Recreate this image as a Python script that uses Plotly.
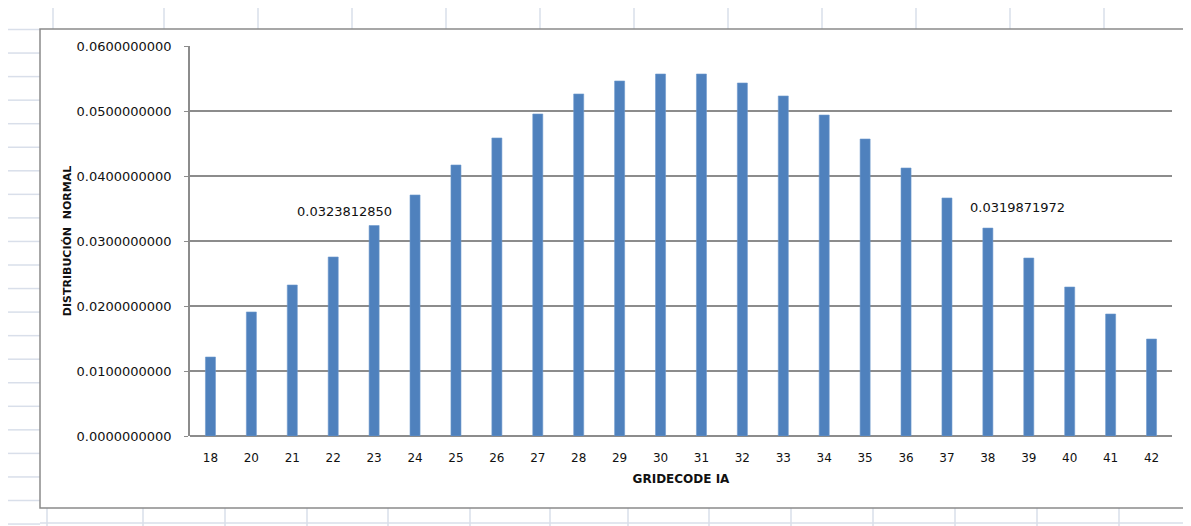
import plotly.graph_objects as go

# Datos: distribución normal por GRIDECODE IA
gridecode = ['18', '20', '21', '22', '23', '24', '25', '26', '27', '28', '29', '30',
             '31', '32', '33', '34', '35', '36', '37', '38', '39', '40', '41', '42']
distribucion = [0.01215, 0.01908, 0.02323, 0.02754, 0.0323812850, 0.03708, 0.04169,
                0.04585, 0.04954, 0.05262, 0.05462, 0.05569, 0.05569, 0.05431,
                0.05231, 0.04938, 0.04569, 0.04123, 0.03662, 0.0319871972,
                0.02738, 0.02292, 0.01877, 0.01492]
etiquetas = ['23', '38']

# la pagina deja 8px de margen: se trabaja en coordenadas de pantalla y se resta
OFF = 8
W, H = 1191 - OFF, 526 - OFF
L, R, T, B = 190, 1172, 46, 436   # area de trazado en pixeles de pantalla
FUENTE = 'DejaVu Sans'


def px(x):
    return (x - L) / (R - L)


def py(y):
    return (B - y) / (B - T)


fig = go.Figure()
fig.add_trace(go.Bar(
    x=gridecode,
    y=distribucion,
    marker=dict(color='#4f81bd', line=dict(color='#6d98cc', width=0.6)),
    hoverinfo='x+y'
))

# Cuadricula de la hoja de calculo (fondo)
hoja = '#d9dfea'
shapes = []
for x in [53, 164, 258, 352, 446, 540, 634, 728, 822, 916, 1010, 1104]:
    shapes.append(dict(type='line', xref='paper', yref='paper', layer='below',
                       x0=px(x), x1=px(x), y0=py(8), y1=py(29),
                       line=dict(color=hoja, width=1.5)))
for x in [47, 143, 225, 307, 388, 470, 550, 628, 709, 791, 873, 955, 1037, 1119]:
    shapes.append(dict(type='line', xref='paper', yref='paper', layer='below',
                       x0=px(x), x1=px(x), y0=py(508), y1=py(526),
                       line=dict(color=hoja, width=1.5)))
for i in range(22):
    y = 29.5 + 23.55 * i
    shapes.append(dict(type='line', xref='paper', yref='paper', layer='below',
                       x0=px(8), x1=px(40), y0=py(y), y1=py(y),
                       line=dict(color=hoja, width=1.5)))
shapes.append(dict(type='line', xref='paper', yref='paper', layer='below',
                   x0=px(40), x1=px(1191), y0=py(523), y1=py(523),
                   line=dict(color=hoja, width=1.5)))
# Marco del grafico
shapes.append(dict(type='rect', xref='paper', yref='paper', layer='below',
                   x0=px(40), x1=px(1189), y0=py(29), y1=py(508),
                   fillcolor='white', line=dict(color='#8a8a8a', width=1.5)))

anotaciones = []
for cat, dx, dy in zip(etiquetas, [-30, 30], [5, 11]):
    i = gridecode.index(cat)
    v = distribucion[i]
    anotaciones.append(dict(x=i, y=v, text=f'{v:.10f}', showarrow=False,
                            xshift=dx, yshift=dy, yanchor='bottom',
                            font=dict(family=FUENTE, size=13, color='#111')))

fig.update_layout(
    width=W, height=H,
    margin=dict(l=L - OFF, r=W - (R - OFF), t=T - OFF, b=H - (B - OFF), pad=0),
    paper_bgcolor='white',
    plot_bgcolor='rgba(0,0,0,0)',
    showlegend=False,
    bargap=0.755,
    shapes=shapes,
    annotations=anotaciones,
    font=dict(family=FUENTE, color='#111'),
    xaxis=dict(
        type='category',
        range=[-0.5, len(gridecode) - 0.5],
        showgrid=False,
        showline=False,
        ticks='',
        tickfont=dict(size=12),
        ticklabelstandoff=13,
        title=dict(text='<b>GRIDECODE IA</b>', font=dict(size=12), standoff=10),
    ),
    yaxis=dict(
        range=[0, 0.06],
        dtick=0.01,
        tickformat='.10f',
        showgrid=True,
        gridcolor='#8c8c8c',
        gridwidth=1.5,
        zeroline=True,
        zerolinecolor='#8c8c8c',
        zerolinewidth=1.5,
        showline=True,
        linecolor='#8c8c8c',
        linewidth=1.5,
        ticks='outside',
        ticklen=4,
        tickcolor='#8c8c8c',
        tickfont=dict(size=13),
        ticklabelstandoff=10,
        title=dict(text='<b>DISTRIBUCIÓN  NORMAL</b>', font=dict(size=11), standoff=3),
    ),
)

fig.write_html('out.html')
